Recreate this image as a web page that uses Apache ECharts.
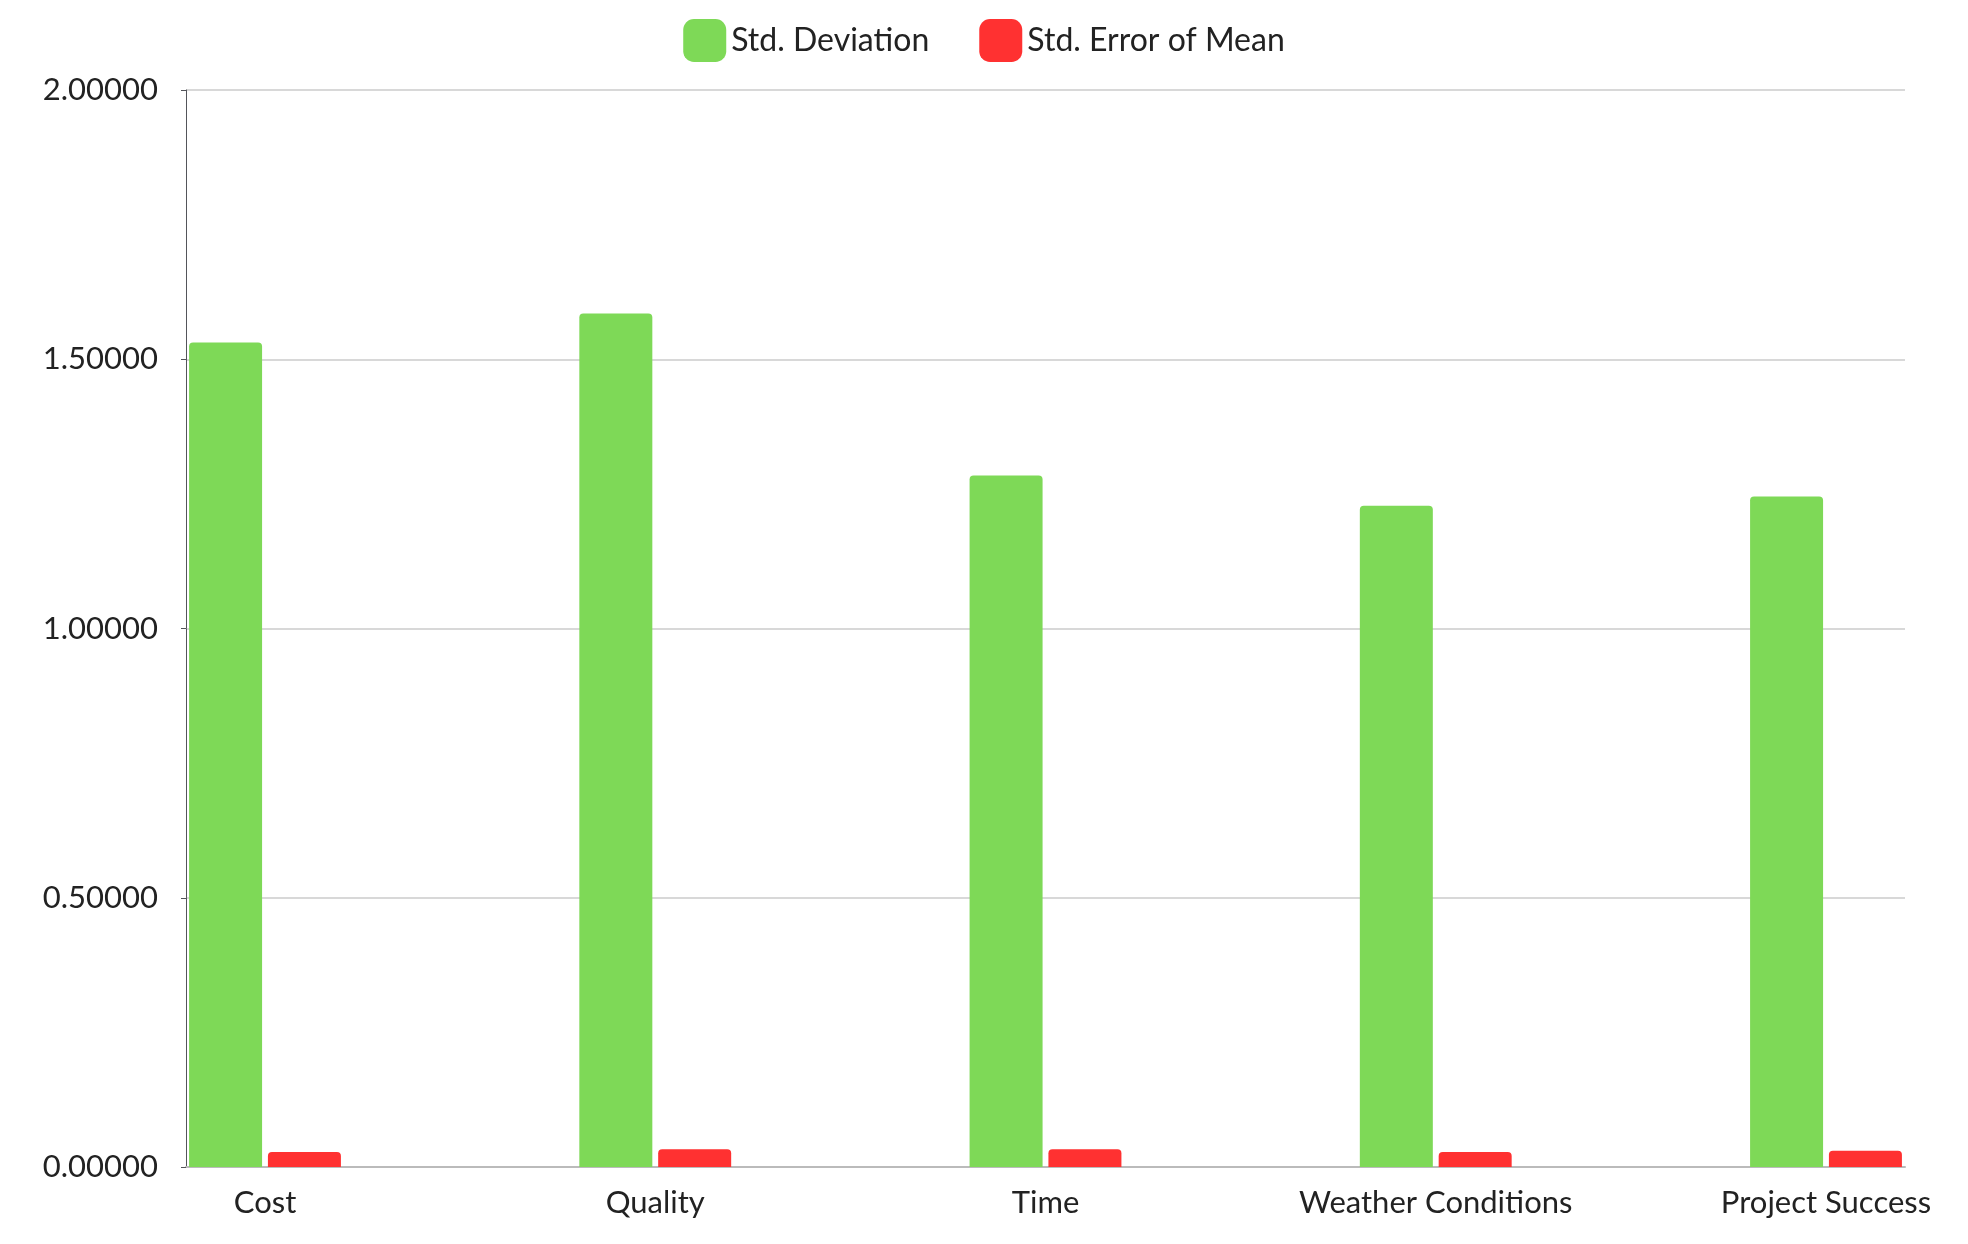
<!DOCTYPE html>
<html lang="en">
<head>
    <meta charset="UTF-8">
    <title>Std. Deviation</title>
    <style>html,body{margin:0;padding:0;background:#fff;}</style>
</head>
<body>
    <div id="chart" style="width:1968px;height:1244px;"></div>
    <script src="https://cdn.jsdelivr.net/npm/echarts@6/dist/echarts.min.js"></script>
    <script>
    var categories = ['Cost', 'Quality', 'Time', 'Weather Conditions', 'Project Success'];
    var stdDeviation = [1.531, 1.585, 1.284, 1.228, 1.245];
    var stdError = [0.028, 0.033, 0.033, 0.028, 0.030];
    var yTicks = [0, 0.5, 1, 1.5, 2];

    var font = 'Lato';
    var chart = echarts.init(document.getElementById('chart'));
    chart.setOption({
        animation: false,
        textStyle: { fontFamily: font },
        legend: {
            top: 14,
            itemWidth: 43,
            itemHeight: 43,
            itemGap: 50,
            textStyle: { fontSize: 32, color: '#222', fontFamily: font },
            data: ['Std. Deviation', 'Std. Error of Mean']
        },
        grid: [
            { left: 186, right: 63, top: 90, bottom: 77 },
            { left: 265, right: 142, top: 90, bottom: 77 }
        ],
        xAxis: [
            { gridIndex: 0, type: 'value', min: 0, max: 1, show: true,
              axisLabel: { show: false }, axisTick: { show: false }, splitLine: { show: false },
              axisLine: { show: true, lineStyle: { color: '#bbb', width: 2 } } },
            { gridIndex: 1, type: 'category', data: categories, boundaryGap: false,
              axisLine: { show: false }, axisTick: { show: false },
              axisLabel: { fontSize: 31, color: '#222', margin: 20, fontFamily: font } }
        ],
        yAxis: [
            { gridIndex: 0, type: 'value', min: 0, max: 2, interval: 0.5,
              axisLabel: { fontSize: 31, color: '#222', margin: 28, fontFamily: font,
                  formatter: function (v) { return v.toFixed(5); } },
              splitLine: { lineStyle: { color: '#d8d8d8', width: 2 } } },
            { gridIndex: 1, type: 'value', min: 0, max: 2, show: false }
        ],
        series: [
            { name: 'Std. Deviation', type: 'bar', xAxisIndex: 1, yAxisIndex: 1,
              data: stdDeviation, barWidth: 73, barGap: '8%',
              itemStyle: { color: '#7ed957', borderRadius: [4, 4, 0, 0] } },
            { name: 'Std. Error of Mean', type: 'bar', xAxisIndex: 1, yAxisIndex: 1,
              data: stdError, barWidth: 73,
              itemStyle: { color: '#ff3131', borderRadius: [4, 4, 0, 0] } }
        ]
    });
    </script>
</body>
</html>
